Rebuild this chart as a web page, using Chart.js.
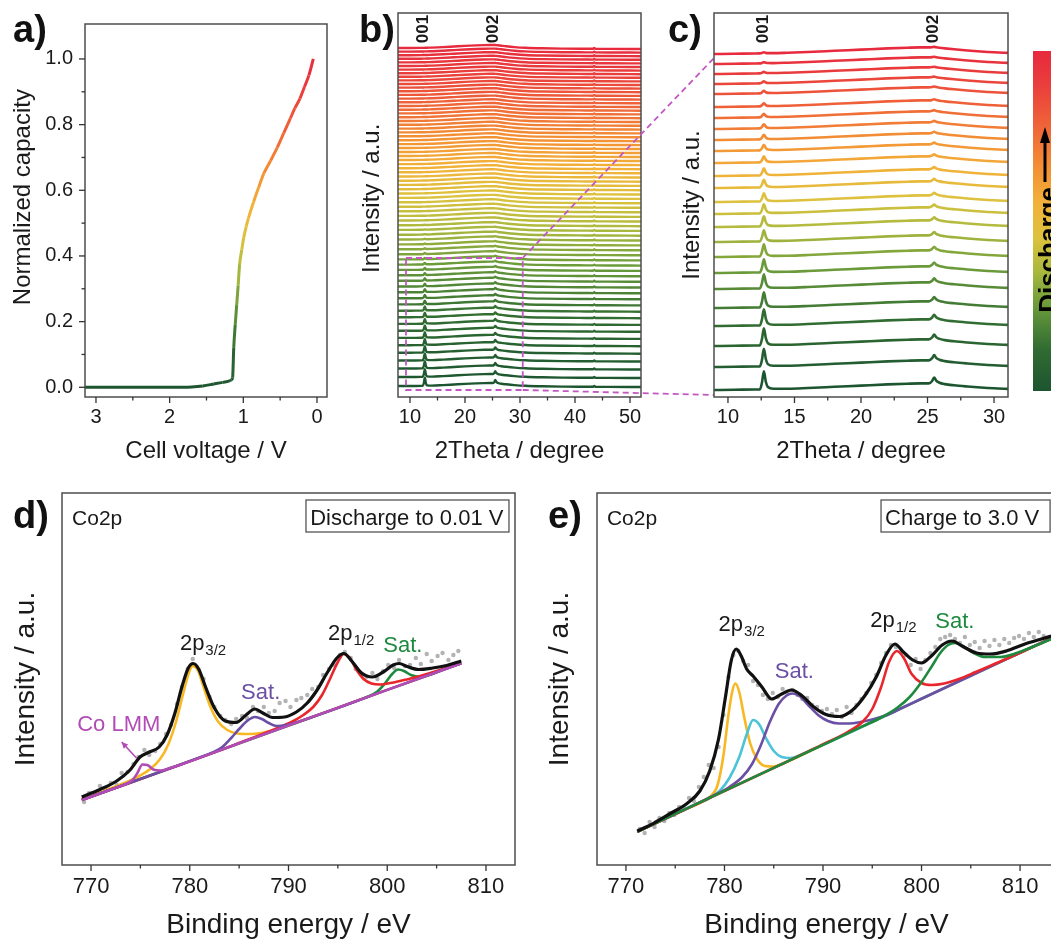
<!DOCTYPE html>
<html>
<head>
<meta charset="utf-8">
<script src="https://cdn.jsdelivr.net/npm/chart.js@4.4.0/dist/chart.umd.min.js"></script>
<style>
html, body { margin: 0; padding: 0; background: #fff; }
body { width: 1051px; height: 942px; overflow: hidden; position: relative; font-family: 'Liberation Sans', Arial, sans-serif; }
canvas { position: absolute; }
.tag { position: absolute; font-weight: bold; font-size: 38px; line-height: 38px; color: #111; }
</style>
</head>
<body>
<canvas id="chA" width="340" height="470" style="left:0;top:0"></canvas>
<canvas id="chB" width="370" height="470" style="left:350px;top:0"></canvas>
<canvas id="chC" width="400" height="470" style="left:670px;top:0"></canvas>
<canvas id="chD" width="530" height="472" style="left:0;top:470px"></canvas>
<canvas id="chE" width="535" height="472" style="left:535px;top:470px"></canvas>
<div class="tag" style="left:13px;top:10px">a)</div>
<div class="tag" style="left:359px;top:10px">b)</div>
<div class="tag" style="left:668px;top:10px">c)</div>
<div class="tag" style="left:13px;top:496px">d)</div>
<div class="tag" style="left:548px;top:496px">e)</div>
<script>
// ---- a) discharge curve ----
const aVolt = [0.05, 0.11, 0.17, 0.23, 0.30, 0.36, 0.45, 0.54, 0.63, 0.72, 0.79, 0.86, 0.93, 0.96, 0.995, 1.02, 1.05, 1.07, 1.09, 1.11, 1.13, 1.145, 1.16, 1.18, 1.28, 1.40, 1.55, 1.70, 2.0, 2.5, 3.149];
const aCap = [1.0, 0.95, 0.915, 0.88, 0.85, 0.82, 0.775, 0.73, 0.69, 0.652, 0.61, 0.565, 0.515, 0.49, 0.455, 0.42, 0.375, 0.31, 0.25, 0.19, 0.12, 0.03, 0.023, 0.02, 0.015, 0.01, 0.004, 0.001, 0, 0, 0];
const aVoltTicks = [0, 1, 2, 3];
const aVoltMinor = [0.5, 1.5, 2.5];
const aCapTicks = [0, 0.2, 0.4, 0.6, 0.8, 1.0];
const aCapMinor = [0.1, 0.3, 0.5, 0.7, 0.9];

// ---- b) operando XRD, all scans (offsets in plot units) ----
const bOffsets = [10, 19, 27.5, 35.5, 43.3, 50.8, 58.1, 65.2, 72.1, 78.8, 85.3, 91.6, 97.7, 103.7, 109.5, 115.2, 120.7, 126.1, 131.4, 136.6,
  141.7, 146.7, 151.6, 156.5, 161.3, 166.1, 170.8, 175.5, 180.1, 184.7, 189.2, 193.7, 198.1, 202.5, 206.8, 211.1, 215.3, 219.5, 223.7, 227.8,
  231.9, 236, 240, 244, 248, 251.9, 255.8, 259.7, 263.6, 267.4, 271.2, 275, 278.8, 282.6, 286.3, 290, 293.7, 297.4, 301.1, 304.8,
  308.4, 312, 315.6, 319.2, 322.8, 326.4, 330, 333.6, 337.2, 340.8, 344.4, 348];
const bPeak001 = [8, 7.6, 7.2, 6.8, 6.4, 6, 5.6, 5.2, 4.8, 4.4, 4, 3.6, 3.2, 2.9, 2.6, 2.3, 2, 1.7, 1.5, 1.3, 1.1, 0.9, 0.7, 0.5, 0.4, 0.3, 0.2];
const bPeak002 = [3, 2.8, 2.6, 2.5, 2.4, 2.2, 2.1, 2, 1.9, 1.8, 1.7, 1.6, 1.5, 1.4, 1.3, 1.2, 1.1, 1, 0.9, 0.8, 0.7, 0.6, 0.5, 0.4, 0.3, 0.2, 0.1];
const bGrid = [7.8, 10, 12, 12.3, 12.5, 12.7, 12.9, 13.1, 14, 16, 18, 20, 22, 23.5, 24.5, 25.1, 25.35, 25.5, 25.7, 26, 26.6, 27.5, 29, 31, 34, 38, 42, 43.3, 43.5, 43.7, 46, 52.1];
const bHump = [1.0, 1.0, 1.1, 1.15, 1.15, 1.2, 1.2, 1.25, 1.4, 1.9, 2.5, 3.1, 3.6, 3.9, 4.0, 4.0, 4.0, 3.95, 3.9, 3.7, 3.3, 2.7, 1.9, 1.2, 0.7, 0.4, 0.25, 0.2, 0.2, 0.2, 0.15, 0];
const bShape001 = [0, 0, 0, 0, 0.3, 1, 0.3, 0.05, 0, 0, 0, 0, 0, 0, 0, 0, 0, 0, 0, 0, 0, 0, 0, 0, 0, 0, 0, 0, 0, 0, 0, 0];
const bShape002 = [0, 0, 0, 0, 0, 0, 0, 0, 0, 0, 0, 0, 0, 0, 0, 0, 0.4, 1, 0.4, 0.1, 0, 0, 0, 0, 0, 0, 0, 0, 0, 0, 0, 0];
const bShape43 = [0, 0, 0, 0, 0, 0, 0, 0, 0, 0, 0, 0, 0, 0, 0, 0, 0, 0, 0, 0, 0, 0, 0, 0, 0, 0, 0, 0, 0.8, 0, 0, 0];
const bTicks = [10, 20, 30, 40, 50];
const bMinor = [15, 25, 35, 45];

// ---- c) zoomed XRD ----
const cOffsets = [7, 30, 51, 71, 89, 108, 124, 140, 155, 170, 183, 195, 209, 221, 234, 246, 257, 268, 279, 290, 303, 313, 323, 333, 343];
const cPeak001 = [18, 17.5, 17, 16, 15, 14, 13, 12, 11, 10, 9, 8, 7.5, 7, 6, 5.5, 4.5, 4, 3.5, 3, 2.5, 2, 1.5, 1.2, 1];
const cPeak002 = [6, 5.5, 5, 4.8, 4.5, 4.2, 4, 3.8, 3.5, 3.3, 3, 2.8, 2.6, 2.4, 2.2, 2, 1.8, 1.6, 1.4, 1.2, 1, 0.9, 0.8, 0.7, 0.6];
const cGrid = [8.9, 10.5, 12, 12.4, 12.55, 12.7, 12.85, 13.0, 13.4, 14.5, 16, 18, 20, 22, 23.5, 24.5, 25.1, 25.35, 25.5, 25.65, 25.9, 26.3, 27, 28, 29, 30, 31.1];
const cHump = [0, 0.2, 0.5, 0.6, 0.65, 0.7, 0.75, 0.8, 0.9, 1.3, 2.0, 3.2, 4.4, 5.6, 6.3, 6.6, 6.6, 6.6, 6.5, 6.4, 6.1, 5.6, 4.7, 3.5, 2.5, 1.7, 1.1];
const cShape001 = [0, 0, 0, 0, 0.35, 1, 0.4, 0.12, 0.02, 0, 0, 0, 0, 0, 0, 0, 0, 0, 0, 0, 0, 0, 0, 0, 0, 0, 0];
const cShape002 = [0, 0, 0, 0, 0, 0, 0, 0, 0, 0, 0, 0, 0, 0, 0, 0, 0, 0.4, 1, 0.5, 0.2, 0.05, 0, 0, 0, 0, 0];
const cTicks = [10, 15, 20, 25, 30];
const cMinor = [12.5, 17.5, 22.5, 27.5];

// ---- d) XPS Co2p, discharged ----
const dTotal = [[769.06, 68], [770.9, 75.5], [772.6, 84], [773.95, 95], [774.96, 108], [775.8, 112.5], [776.9, 118], [777.7, 130], [778.5, 152], [779.2, 178], [779.85, 197], [780.35, 201.5], [780.9, 196], [781.6, 178], [782.5, 157], [783.6, 144], [784.7, 142.5], [785.7, 150], [786.6, 156], [787.4, 152], [788.4, 147.5], [789.6, 148], [790.8, 153], [791.9, 162], [792.9, 175], [793.9, 192], [794.9, 207], [795.6, 211.5], [796.4, 204], [797.4, 192], [798.5, 188], [799.6, 193], [800.6, 200], [801.2, 201.5], [802.0, 198.5], [803.2, 195.5], [804.6, 197], [806, 199.5], [807.5, 204]];
const dMain32 = [[769.06, 66], [771, 73], [773, 80.5], [774.5, 87], [776, 96], [777, 106], [777.8, 120], [778.6, 143], [779.3, 170], [779.9, 192], [780.3, 199], [780.8, 195], [781.4, 178], [782.1, 158], [782.9, 143], [783.8, 135], [784.8, 131.5], [786, 131], [787.2, 132], [788.3, 134.5], [789.5, 138], [790.5, 141.3], [795, 157.3], [800, 175.1], [807.5, 201.7]];
const dSat32 = [[769.06, 65], [781, 107.5], [782.3, 112.5], [783.3, 118], [784.2, 127], [785, 136], [785.8, 144], [786.6, 148], [787.3, 146], [788, 142], [788.8, 139], [789.8, 140], [791, 143.3], [800, 175.1], [807.5, 201.7]];
const dMain12 = [[769.06, 65], [784, 118.1], [786, 125.8], [788, 133.5], [789.5, 139.5], [790.5, 144], [791.5, 150], [792.5, 158], [793.4, 170], [794.2, 186], [795, 203], [795.6, 211], [796.2, 207], [796.9, 195], [797.6, 186], [798.4, 181.5], [799.3, 180.5], [800.3, 182], [801.5, 184.5], [803, 188], [804.5, 192.5], [806, 197], [807.5, 201.7]];
const dSat12 = [[769.06, 65], [780, 103.9], [790, 139.5], [797, 164.4], [798, 168.2], [799, 173.5], [799.8, 182], [800.5, 191], [801.1, 195.5], [801.7, 194], [802.4, 190], [803.3, 188.2], [804.4, 190.5], [805.5, 195], [807.5, 201.7]];
const dLMM = [[769.06, 65], [772, 75.5], [773.4, 80.5], [774.2, 85], [774.7, 92], [775.2, 100.5], [775.7, 100], [776.3, 95.5], [777, 94.5], [778, 97], [779, 100.1], [785, 121.7], [790, 139.5], [795, 157.3], [800, 175.1], [807.5, 201.7]];
const dDots = [[769.3, 63], [769.8, 72], [770.3, 70], [770.9, 79], [771.5, 75], [772.0, 82], [772.6, 80], [773.1, 92], [773.7, 93], [774.3, 101], [774.8, 108], [775.4, 115], [775.9, 110], [776.5, 114], [777.0, 121], [777.6, 131], [778.1, 140], [778.7, 161], [779.2, 178], [779.8, 196], [780.3, 206], [780.9, 195], [781.4, 186], [782.0, 168], [782.5, 158], [783.1, 149], [783.6, 145], [784.2, 141], [784.7, 146], [785.3, 149], [785.8, 147], [786.4, 158], [786.9, 154], [787.5, 158], [788.0, 152], [788.6, 154], [789.1, 162], [789.7, 164], [790.2, 158], [790.8, 165], [791.3, 167], [791.9, 170], [792.4, 176], [793.0, 178], [793.5, 190], [794.1, 196], [794.6, 200], [795.2, 210], [795.7, 213], [796.3, 207], [796.8, 196], [797.4, 190], [797.9, 188], [798.5, 192], [799.0, 186], [799.6, 194], [800.1, 200], [800.7, 197], [801.2, 205], [801.8, 199], [802.3, 200], [802.9, 207], [803.4, 201], [804.0, 211], [804.5, 204], [805.1, 209], [805.6, 212], [806.2, 205], [806.7, 210], [807.2, 214]];

// ---- e) XPS Co2p, charged ----
const eTotal = [[771.15, 34], [772.8, 41.7], [774.5, 51.5], [776.2, 61.5], [777.5, 74], [778.5, 94], [779.4, 126], [780.1, 168], [780.7, 205], [781.2, 216], [781.7, 209], [782.25, 196], [782.9, 189], [783.8, 178], [784.8, 166], [785.8, 171], [786.8, 175], [787.9, 169], [789, 158.5], [790.3, 150.5], [791.7, 148.5], [793, 155], [794.3, 170], [795.4, 188], [796.4, 210], [797.3, 221], [798.1, 213.5], [799.1, 205], [800, 202], [801, 209], [802.1, 220], [803.1, 224], [804.2, 218.5], [805.6, 212], [807, 211], [808.6, 214], [810.5, 221], [812, 225.5], [813.2, 229]];
const eMain32 = [[771.15, 33.3], [776, 55.6], [777.5, 62], [778.5, 68], [779.3, 80], [779.9, 110], [780.4, 150], [780.8, 174], [781.1, 181.5], [781.5, 173], [782, 148], [782.6, 122], [783.3, 106], [784.1, 99], [785, 98.5], [786, 101.7], [790, 120.1], [800, 166.2], [810, 212.3], [813.2, 227]];
const eShoulder = [[771.15, 33.3], [777, 60.5], [778.5, 67], [779.5, 74], [780.5, 87], [781.5, 108], [782.3, 132], [782.9, 145], [783.5, 141], [784.2, 127], [785, 114], [785.8, 108], [786.7, 107], [787.8, 110.5], [789, 115.8], [790, 120.1], [800, 166.2], [810, 212.3], [813.2, 227]];
const eSat32 = [[771.15, 33.3], [777, 60.2], [779, 70], [780.5, 78], [781.8, 88], [782.8, 101], [783.7, 120], [784.6, 143], [785.5, 161], [786.3, 169.5], [786.9, 171.5], [787.6, 169], [788.5, 160], [789.5, 150], [790.5, 144], [791.6, 141.5], [792.7, 141.5], [793.8, 143], [795, 145.5], [796.5, 150], [798, 157], [800, 166.2], [805, 189.3], [810, 212.3], [813.2, 227]];
const eMain12 = [[771.15, 33.3], [786, 101.7], [788.5, 113.5], [790.5, 123], [792.5, 133], [794, 143], [795, 156], [795.9, 178], [796.7, 203], [797.5, 214], [798.2, 207], [799, 191], [800, 182], [801, 180], [802.3, 181.5], [803.8, 186], [805.5, 193], [807.5, 201.5], [809.5, 210], [811.5, 219], [813.2, 226.5]];
const eSat12 = [[771.15, 33.3], [780, 74.1], [790, 120.1], [794, 138.6], [796, 148], [797.5, 157], [798.8, 168], [800, 183], [801, 198], [801.9, 212], [802.7, 220], [803.4, 222], [804.2, 219], [805.2, 212.5], [806.5, 208], [808, 208], [809.5, 211.5], [811, 217], [813.2, 226]];
const eDots = [[771.4, 36], [771.9, 32], [772.4, 43], [772.9, 38], [773.4, 47], [773.9, 44], [774.4, 52], [774.9, 50], [775.4, 58], [775.9, 57], [776.4, 67], [776.9, 64], [777.4, 78], [777.9, 88], [778.4, 100], [778.9, 97], [779.4, 118], [779.9, 150], [780.4, 188], [780.9, 210], [781.4, 214], [781.9, 204], [782.4, 200], [782.9, 184], [783.4, 180], [783.9, 170], [784.4, 166], [784.9, 172], [785.4, 168], [785.9, 176], [786.4, 172], [786.9, 175], [787.4, 170], [787.9, 166], [788.4, 167], [788.9, 160], [789.4, 158], [789.9, 154], [790.4, 156], [790.9, 151], [791.4, 155], [791.9, 148], [792.4, 158], [792.9, 152], [793.4, 160], [793.9, 166], [794.4, 172], [794.9, 182], [795.4, 190], [795.9, 202], [796.4, 212], [796.9, 220], [797.4, 218], [797.9, 213], [798.4, 210], [798.9, 200], [799.4, 206], [799.9, 196], [800.4, 205], [800.9, 212], [801.4, 218], [801.9, 226], [802.4, 228], [802.9, 230], [803.4, 226], [803.9, 222], [804.4, 228], [804.9, 220], [805.4, 223], [805.9, 217], [806.4, 224], [806.9, 219], [807.4, 225], [807.9, 220], [808.4, 226], [808.9, 222], [809.4, 227], [809.9, 229], [810.4, 226], [810.9, 232], [811.4, 228], [811.9, 233], [812.4, 229]];
const xpsTicks = [770, 780, 790, 800, 810];
const xpsMinor = [775, 785, 795, 805];

// colours
const FONT = "'Liberation Sans', Arial, sans-serif";
const INK = '#1a1a1a';
const cmapStops = [[0, '#1d5530'], [0.12, '#2f6b32'], [0.25, '#6a9a3a'], [0.35, '#a8b83e'], [0.45, '#dcc23e'], [0.55, '#f2b23a'], [0.65, '#f39234'], [0.78, '#ef6438'], [0.9, '#ea3e3c'], [1, '#e72a3e']];
const C = { black: '#111111', orange: '#f7b824', purple: '#6b4fa5', red: '#e9262b', green: '#1e8a3e', magenta: '#b24bb6', cyan: '#4dc3d8', dots: '#b3b3b3' };

function hexRgb(h) { return [1, 3, 5].map(i => parseInt(h.slice(i, i + 2), 16)); }
function cmap(f) {
  f = Math.max(0, Math.min(1, f));
  for (let i = 1; i < cmapStops.length; i++) {
    if (f <= cmapStops[i][0]) {
      const [f0, c0] = cmapStops[i - 1], [f1, c1] = cmapStops[i];
      const t = (f - f0) / (f1 - f0), a = hexRgb(c0), b = hexRgb(c1);
      return 'rgb(' + a.map((v, k) => Math.round(v + (b[k] - v) * t)).join(',') + ')';
    }
  }
  return cmapStops[cmapStops.length - 1][1];
}

Chart.defaults.font.family = FONT;
Chart.defaults.color = INK;
Chart.defaults.animation = false;
Chart.defaults.plugins.legend.display = false;
Chart.defaults.plugins.tooltip.enabled = false;

// box round the plot + outward major/minor ticks
Chart.register({
  id: 'frame',
  afterDraw(chart, args, o) {
    const { ctx, chartArea: ar, scales } = chart;
    ctx.save();
    ctx.lineWidth = 1.5; ctx.strokeStyle = '#4d4d4d';
    ctx.strokeRect(ar.left, ar.top, ar.right - ar.left, ar.bottom - ar.top);
    ctx.lineWidth = 1.3; ctx.strokeStyle = '#333';
    const mark = (axis, v, len) => {
      ctx.beginPath();
      if (axis === 'x') { const p = scales.x.getPixelForValue(v); ctx.moveTo(p, ar.bottom); ctx.lineTo(p, ar.bottom + len); }
      else { const p = scales.y.getPixelForValue(v); ctx.moveTo(ar.left, p); ctx.lineTo(ar.left - len, p); }
      ctx.stroke();
    };
    (o.xMajor || []).forEach(v => mark('x', v, 6));
    (o.xMinor || []).forEach(v => mark('x', v, 3.5));
    (o.yMajor || []).forEach(v => mark('y', v, 6));
    (o.yMinor || []).forEach(v => mark('y', v, 3.5));
    ctx.restore();
  }
});

// text labels placed in data coordinates
Chart.register({
  id: 'notes',
  afterDatasetsDraw(chart, args, o) {
    const { ctx, scales: { x, y } } = chart;
    ctx.save();
    for (const it of (o.items || [])) {
      const px = x.getPixelForValue(it.x), py = y.getPixelForValue(it.y);
      ctx.fillStyle = it.color || INK;
      if (it.rot) {
        ctx.save();
        ctx.translate(px, py); ctx.rotate(-Math.PI / 2);
        ctx.font = 'bold 17px ' + FONT; ctx.textAlign = 'center'; ctx.textBaseline = 'middle';
        ctx.fillText(it.text, 0, 0);
        ctx.restore();
        continue;
      }
      ctx.font = (it.size || 22) + 'px ' + FONT; ctx.textAlign = 'left'; ctx.textBaseline = 'alphabetic';
      ctx.fillText(it.text, px, py);
      if (it.sub) {
        const w = ctx.measureText(it.text).width;
        ctx.font = '15px ' + FONT;
        ctx.fillText(it.sub, px + w + 1, py + 5);
      }
    }
    if (o.box) {
      const b = o.box;
      const x0 = x.getPixelForValue(b.x0), x1 = x.getPixelForValue(b.x1);
      const y0 = y.getPixelForValue(b.y1), y1 = y.getPixelForValue(b.y0);
      ctx.fillStyle = '#fff'; ctx.fillRect(x0, y0, x1 - x0, y1 - y0);
      ctx.strokeStyle = '#555'; ctx.lineWidth = 1.3; ctx.strokeRect(x0, y0, x1 - x0, y1 - y0);
      ctx.fillStyle = INK; ctx.font = '22px ' + FONT; ctx.textAlign = 'left'; ctx.textBaseline = 'alphabetic';
      ctx.fillText(b.text, x.getPixelForValue(b.tx), y.getPixelForValue(b.ty));
    }
    if (o.arrow) {
      const a = o.arrow;
      const fx = x.getPixelForValue(a.from[0]), fy = y.getPixelForValue(a.from[1]);
      const tx = x.getPixelForValue(a.to[0]), ty = y.getPixelForValue(a.to[1]);
      const ang = Math.atan2(ty - fy, tx - fx);
      ctx.strokeStyle = a.color; ctx.fillStyle = a.color; ctx.lineWidth = 1.6;
      ctx.beginPath(); ctx.moveTo(fx, fy); ctx.lineTo(tx, ty); ctx.stroke();
      ctx.beginPath();
      ctx.moveTo(tx, ty);
      ctx.lineTo(tx - 7 * Math.cos(ang - 0.45), ty - 7 * Math.sin(ang - 0.45));
      ctx.lineTo(tx - 7 * Math.cos(ang + 0.45), ty - 7 * Math.sin(ang + 0.45));
      ctx.closePath(); ctx.fill();
    }
    ctx.restore();
  }
});

function scales(o) {
  const yTicks = { display: !!o.yTicks, padding: o.yPad || 0, autoSkip: false, font: { size: o.tickSize }, color: INK };
  if (o.yFmt) yTicks.callback = o.yFmt;
  const y = {
    type: 'linear', min: o.yMin, max: o.yMax,
    grid: { display: false, drawTicks: false }, border: { display: false },
    afterFit: s => { s.width = o.yW; },
    ticks: yTicks,
    title: { display: true, text: o.yTitle, padding: 0, color: INK, font: { size: o.titleSize } }
  };
  if (o.yTicks) y.afterBuildTicks = s => { s.ticks = o.yTicks.map(v => ({ value: v })); };
  return {
    x: {
      type: 'linear', min: o.xMin, max: o.xMax, reverse: !!o.xRev,
      grid: { display: false, drawTicks: false }, border: { display: false },
      afterBuildTicks: s => { s.ticks = o.xTicks.map(v => ({ value: v })); },
      afterFit: s => { s.height = o.xH; },
      ticks: { padding: o.xPad, autoSkip: false, maxRotation: 0, font: { size: o.tickSize }, color: INK, callback: v => String(v) },
      title: { display: true, text: o.xTitle, padding: 0, color: INK, font: { size: o.titleSize } }
    },
    y
  };
}

const base = { responsive: false, devicePixelRatio: 1, events: [], animation: false };
const pts = pairs => pairs.map(([x, y]) => ({ x, y }));
const lineSet = (pairs, color, width, order) => ({ data: pts(pairs), borderColor: color, borderWidth: width, pointRadius: 0, cubicInterpolationMode: 'monotone', order, fill: false });

// a)
new Chart(document.getElementById('chA'), {
  type: 'line',
  data: { datasets: [{
    data: aVolt.map((v, i) => ({ x: v, y: aCap[i] })),
    borderWidth: 3, pointRadius: 0, cubicInterpolationMode: 'monotone', borderColor: cmapStops[0][1],
    segment: { borderColor: c => cmap((c.p0.parsed.y + c.p1.parsed.y) / 2) }
  }] },
  options: { ...base,
    layout: { autoPadding: false, padding: { left: 9, top: 13, right: 13, bottom: 4 } },
    scales: scales({ xMin: -0.136, xMax: 3.149, xRev: true, xTicks: aVoltTicks, xH: 69, xPad: 8, xTitle: 'Cell voltage / V',
      yMin: -0.0296, yMax: 1.1065, yTicks: aCapTicks, yFmt: v => v.toFixed(1), yW: 76, yPad: 12, yTitle: '    Normalized capacity',
      tickSize: 20, titleSize: 24 }),
    plugins: { frame: { xMajor: aVoltTicks, xMinor: aVoltMinor, yMajor: aCapTicks, yMinor: aCapMinor } }
  }
});

// b)
const bSets = bOffsets.map((off, i) => ({
  data: bGrid.map((x, k) => ({ x, y: off + bHump[k] + (bPeak001[i] || 0) * bShape001[k] + (bPeak002[i] || 0) * bShape002[k] + bShape43[k] })),
  borderColor: cmap(i / (bOffsets.length - 1)), borderWidth: 2.4, pointRadius: 0, cubicInterpolationMode: 'monotone'
}));
new Chart(document.getElementById('chB'), {
  type: 'line',
  data: { datasets: bSets },
  options: { ...base,
    layout: { autoPadding: false, padding: { left: 8, top: 13, right: 79, bottom: 4 } },
    scales: scales({ xMin: 7.82, xMax: 52.0, xTicks: bTicks, xH: 69, xPad: 8, xTitle: '2Theta / degree',
      yMin: 0, yMax: 384, yW: 40, yTitle: '  Intensity / a.u.', tickSize: 20, titleSize: 24 }),
    plugins: {
      frame: { xMajor: bTicks, xMinor: bMinor },
      notes: { items: [{ text: '001', x: 12.45, y: 368, rot: true }, { text: '002', x: 25.2, y: 368, rot: true }] }
    }
  },
  plugins: [{
    id: 'zoomLinks',
    afterDraw(chart) {
      const { ctx, scales: { x, y } } = chart;
      const X = v => x.getPixelForValue(v), Y = v => y.getPixelForValue(v);
      ctx.save();
      ctx.strokeStyle = '#c257c4'; ctx.lineWidth = 1.8; ctx.setLineDash([6, 4]);
      ctx.strokeRect(X(9.27), Y(139), X(30.5) - X(9.27), Y(7) - Y(139));
      ctx.beginPath();
      ctx.moveTo(X(30.5), Y(139)); ctx.lineTo(X(65.27), Y(339));
      ctx.moveTo(X(30.5), Y(7)); ctx.lineTo(X(65.27), Y(2));
      ctx.stroke();
      ctx.restore();
    }
  }]
});

// c)
const cSets = cOffsets.map((off, i) => ({
  data: cGrid.map((x, k) => ({ x, y: off + cHump[k] + cPeak001[i] * cShape001[k] + cPeak002[i] * cShape002[k] })),
  borderColor: cmap(i / (cOffsets.length - 1)), borderWidth: 2.6, pointRadius: 0, cubicInterpolationMode: 'monotone'
}));
new Chart(document.getElementById('chC'), {
  type: 'line',
  data: { datasets: cSets },
  options: { ...base,
    layout: { autoPadding: false, padding: { left: 8, top: 13, right: 62, bottom: 4 } },
    scales: scales({ xMin: 8.95, xMax: 31.05, xTicks: cTicks, xH: 69, xPad: 8, xTitle: '2Theta / degree',
      yMin: 0, yMax: 384, yW: 36, yTitle: 'Intensity / a.u.', tickSize: 20, titleSize: 24 }),
    plugins: {
      frame: { xMajor: cTicks, xMinor: cMinor },
      notes: { items: [{ text: '001', x: 12.67, y: 368, rot: true }, { text: '002', x: 25.45, y: 368, rot: true }] }
    }
  },
  plugins: [{
    id: 'colorBar',
    afterDraw(chart) {
      const { ctx, chartArea: ar } = chart;
      const x0 = ar.right + 25, top = ar.top + 38, bot = ar.bottom - 6;
      const g = ctx.createLinearGradient(0, bot, 0, top);
      cmapStops.forEach(([f, c]) => g.addColorStop(f, c));
      ctx.save();
      ctx.fillStyle = g; ctx.fillRect(x0, top, 40, bot - top);
      const ax = ar.right + 37;
      ctx.strokeStyle = '#000'; ctx.lineWidth = 3;
      ctx.beginPath(); ctx.moveTo(ax, 182); ctx.lineTo(ax, 140); ctx.stroke();
      ctx.fillStyle = '#000';
      ctx.beginPath(); ctx.moveTo(ax, 127); ctx.lineTo(ax - 5, 143); ctx.lineTo(ax + 5, 143); ctx.closePath(); ctx.fill();
      ctx.translate(ar.right + 42, 250); ctx.rotate(-Math.PI / 2);
      ctx.font = 'bold 26px ' + FONT; ctx.textAlign = 'center'; ctx.textBaseline = 'middle';
      ctx.fillText('Discharge', 0, 0);
      ctx.restore();
    }
  }]
});

// d)
new Chart(document.getElementById('chD'), {
  type: 'line',
  data: { datasets: [
    lineSet(dTotal, C.black, 3.2, 0),
    lineSet(dLMM, C.magenta, 2.6, 1),
    lineSet(dSat32, C.purple, 2.6, 2),
    lineSet(dMain12, C.red, 2.6, 3),
    lineSet(dSat12, C.green, 2.6, 4),
    lineSet(dMain32, C.orange, 2.6, 5),
    { data: pts(dDots), showLine: false, pointRadius: 2.2, pointBackgroundColor: C.dots, pointBorderWidth: 0, order: 6 }
  ] },
  options: { ...base,
    layout: { autoPadding: false, padding: { left: 9, top: 23, right: 15, bottom: 0 } },
    scales: scales({ xMin: 767.06, xMax: 812.94, xTicks: xpsTicks, xH: 77, xPad: 9, xTitle: 'Binding energy / eV',
      yMin: 0, yMax: 372, yW: 53, yTitle: 'Intensity / a.u.', tickSize: 22, titleSize: 28 }),
    plugins: {
      frame: { xMajor: xpsTicks, xMinor: xpsMinor },
      notes: {
        items: [
          { text: 'Co2p', x: 768.08, y: 340, size: 21 },
          { text: '2p', sub: '3/2', x: 779.0, y: 215 },
          { text: 'Sat.', x: 785.2, y: 166, color: C.purple },
          { text: '2p', sub: '1/2', x: 794.0, y: 225 },
          { text: 'Sat.', x: 799.6, y: 213, color: C.green },
          { text: 'Co LMM', x: 768.6, y: 134, color: C.magenta }
        ],
        box: { x0: 791.77, x1: 812.33, y0: 333, y1: 365, text: 'Discharge to 0.01 V', tx: 792.2, ty: 340 },
        arrow: { from: [774.6, 107], to: [773.1, 123], color: C.magenta }
      }
    }
  }
});

// e)
new Chart(document.getElementById('chE'), {
  type: 'line',
  data: { datasets: [
    lineSet(eTotal, C.black, 3.2, 0),
    lineSet(eSat12, C.green, 2.6, 1),
    lineSet(eMain12, C.red, 2.6, 2),
    lineSet(eSat32, C.purple, 2.6, 3),
    lineSet(eShoulder, C.cyan, 2.6, 4),
    lineSet(eMain32, C.orange, 2.6, 5),
    { data: pts(eDots), showLine: false, pointRadius: 2.2, pointBackgroundColor: C.dots, pointBorderWidth: 0, order: 6 }
  ] },
  options: { ...base,
    layout: { autoPadding: false, padding: { left: 8, top: 23, right: 14, bottom: 0 } },
    scales: scales({ xMin: 767.06, xMax: 813.65, xTicks: xpsTicks, xH: 77, xPad: 9, xTitle: 'Binding energy / eV',
      yMin: 0, yMax: 372, yW: 54, yTitle: 'Intensity / a.u.', tickSize: 22, titleSize: 28 }),
    plugins: {
      frame: { xMajor: xpsTicks, xMinor: xpsMinor },
      notes: {
        items: [
          { text: 'Co2p', x: 768.07, y: 340, size: 21 },
          { text: '2p', sub: '3/2', x: 779.4, y: 234 },
          { text: 'Sat.', x: 785.1, y: 187, color: C.purple },
          { text: '2p', sub: '1/2', x: 794.8, y: 238 },
          { text: 'Sat.', x: 801.4, y: 237, color: C.green }
        ],
        box: { x0: 795.89, x1: 813.05, y0: 333, y1: 365, text: 'Charge to 3.0 V', tx: 796.3, ty: 340 }
      }
    }
  }
});
</script>
</body>
</html>
